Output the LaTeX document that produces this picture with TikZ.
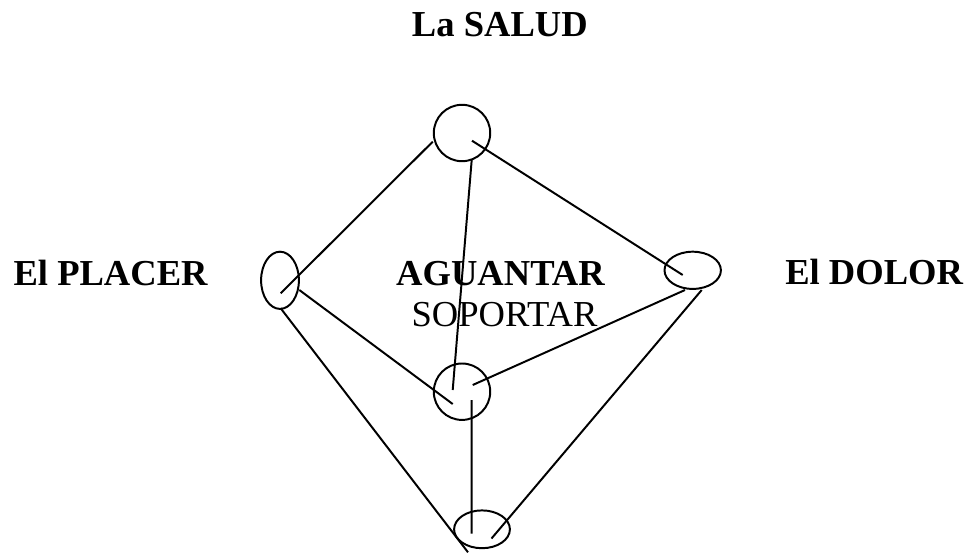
\documentclass[tikz,border=0pt]{standalone}
\usepackage{fontspec}
\setmainfont{Liberation Serif}
\usetikzlibrary{shapes.geometric,calc}

\begin{document}
\begin{tikzpicture}[x=0.025cm,y=-0.025cm]
\tikzset{ pole/.style={draw, ellipse, inner sep=0pt, line width=1.4pt}, bond/.style={line width=1.4pt}, tag/.style={font=\fontsize{26}{30}\selectfont\bfseries, inner sep=0pt}}
\useasboundingbox (0,0) rectangle (971,552);

\node[tag, anchor=base west] (saludlbl) at (411.7,36.7) {La SALUD};
\node[tag, anchor=base west] (placerlbl) at (13.3,285) {El PLACER};
\node[tag, anchor=base west] (dolorlbl) at (785,284) {El DOLOR};
\node[tag, anchor=base] (aguantarlbl) at (500.5,285) {AGUANTAR};
\node[tag, font=\fontsize{26}{30}\selectfont, anchor=base] (soportarlbl) at (504.5,326) {SOPORTAR};

\node[pole, minimum width=1.41cm, minimum height=1.41cm] (cima) at (462,133) {};
\node[pole, minimum width=0.945cm, minimum height=1.43cm] (izq) at (280,280.3) {};
\node[pole, minimum width=1.41cm, minimum height=0.93cm] (der) at (692.7,270.3) {};
\node[pole, minimum width=1.41cm, minimum height=1.41cm] (medio) at (462,391.7) {};
\node[pole, minimum width=1.395cm, minimum height=0.945cm] (fondo) at (482,529.3) {};

\draw[bond] ($(cima)+(-29.3,8.7)$) -- ($(izq)+(0.7,13)$);
\draw[bond] ($(cima)+(10,7.7)$) -- ($(der)+(-10,4.7)$);
\draw[bond] ($(cima)+(9.7,27)$) -- ($(medio)+(-9.3,-1.7)$);
\draw[bond] ($(izq)+(19.3,9.7)$) -- ($(medio)+(-9.3,12.3)$);
\draw[bond] ($(izq)+(0.7,28)$) -- ($(fondo)+(-14,23)$);
\draw[bond] ($(medio)+(10.7,-6.7)$) -- ($(der)+(-7.7,19.7)$);
\draw[bond] ($(der)+(9,19.7)$) -- ($(fondo)+(9.5,9.2)$);
\draw[bond] ($(medio)+(9.7,8.3)$) -- ($(fondo)+(-10.3,4.4)$);
\end{tikzpicture}
\end{document}
